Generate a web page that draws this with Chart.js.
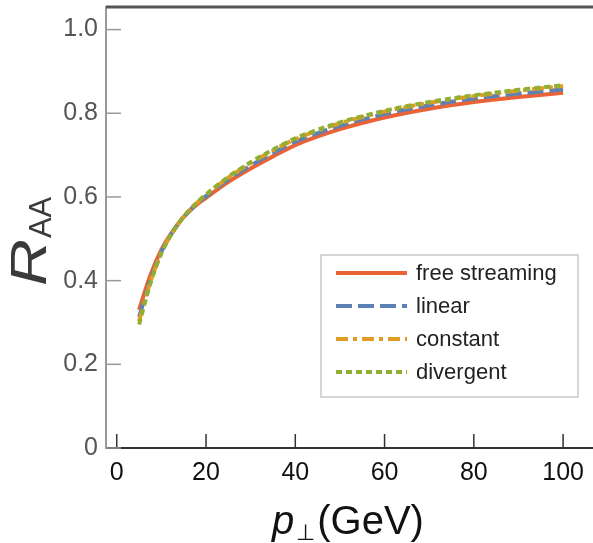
<!DOCTYPE html>
<html>
<head>
<meta charset="utf-8">
<script src="https://cdn.jsdelivr.net/npm/chart.js@4"></script>
<style>
body{margin:0;background:#fff}
#raa{display:block}
</style>
</head>
<body>
<canvas id="raa" width="593" height="543"></canvas>
<script>
// transverse momentum (GeV)
const pt = [5,7.5,10,12.5,15,17.5,20,25,30,35,40,50,60,70,80,90,100]

const freeStreaming = [0.330,0.412,0.474,0.518,0.552,0.578,0.598,0.636,0.668,0.697,0.724,0.762,0.790,0.811,0.827,0.839,0.849]
const linear        = [0.313,0.400,0.469,0.516,0.552,0.580,0.602,0.642,0.675,0.705,0.732,0.770,0.798,0.819,0.835,0.847,0.857]
const constant      = [0.303,0.396,0.467,0.515,0.553,0.581,0.605,0.646,0.681,0.711,0.738,0.776,0.804,0.825,0.841,0.854,0.865]
const divergent     = [0.295,0.392,0.465,0.515,0.553,0.582,0.606,0.648,0.683,0.713,0.740,0.778,0.806,0.827,0.843,0.856,0.867]

const xTicks = [0,20,40,60,80,100]
const yTicks = [0,0.2,0.4,0.6,0.8,1.0]

function pts(ys){
return pt.map((x,i)=>({x:x,y:ys[i]}))
}

function line(label,ys,color,dash,order){
return {
label:label,
data:pts(ys),
borderColor:color,
backgroundColor:color,
borderWidth:4,
borderDash:dash,
pointRadius:0,
cubicInterpolationMode:'monotone',
order:order
}
}

// frame top line, inward ticks, titles and legend box
const decor = {
id:'decor',
afterDraw(chart){
const c = chart.ctx
const a = chart.chartArea
const xs = chart.scales.x
const ys = chart.scales.y
c.save()

c.strokeStyle = '#555'
c.lineWidth = 3
c.beginPath()
c.moveTo(a.left,a.top)
c.lineTo(a.right,a.top)
c.stroke()

c.lineWidth = 1.5
c.strokeStyle = '#333'
xTicks.forEach(v=>{
const px = xs.getPixelForValue(v)
c.beginPath()
c.moveTo(px,a.bottom)
c.lineTo(px,a.bottom-14)
c.stroke()
})
c.strokeStyle = '#999'
yTicks.forEach(v=>{
const py = ys.getPixelForValue(v)
c.beginPath()
c.moveTo(a.left,py)
c.lineTo(a.left+15,py)
c.stroke()
})

// x title
c.fillStyle = '#111'
c.textBaseline = 'alphabetic'
c.textAlign = 'left'
let x = 272
c.font = 'italic 40px "Liberation Sans", Arial, sans-serif'
c.fillText('p',x,534)
x += c.measureText('p').width + 2
c.font = '22px "Liberation Sans", Arial, sans-serif'
c.fillText('\u22A5',x,540)
x += c.measureText('\u22A5').width + 2
c.font = '40px "Liberation Sans", Arial, sans-serif'
c.fillText('(GeV)',x,534)

// y title
c.save()
c.translate(46,286)
c.rotate(-Math.PI/2)
c.fillStyle = '#3a3a3a'
c.font = 'italic 50px "Liberation Sans", Arial, sans-serif'
const rw = c.measureText('R').width * 1.3
c.save()
c.scale(1.3,1)
c.fillText('R',0,0)
c.restore()
c.font = '31px "Liberation Sans", Arial, sans-serif'
c.fillText('AA',rw+1,5)
c.restore()

// legend
const bx = 321, by = 255, bw = 257, bh = 142
c.fillStyle = '#fff'
c.fillRect(bx,by,bw,bh)
c.strokeStyle = '#c8c8c8'
c.lineWidth = 1.5
c.strokeRect(bx,by,bw,bh)
c.font = '22px "Liberation Sans", Arial, sans-serif'
c.textBaseline = 'middle'
chart.data.datasets.forEach((d,i)=>{
const ry = by + 18 + i*33
c.strokeStyle = d.borderColor
c.lineWidth = d.borderWidth
c.setLineDash(d.borderDash)
c.beginPath()
c.moveTo(bx+15,ry)
c.lineTo(bx+86,ry)
c.stroke()
c.setLineDash([])
c.fillStyle = '#222'
c.fillText(d.label,bx+95,ry+1)
})

c.restore()
}
}

new Chart(document.getElementById('raa'),{
type:'line',
data:{
datasets:[
line('free streaming',freeStreaming,'#EB6235',[],4),
line('linear',linear,'#5E81B5',[16,6],3),
line('constant',constant,'#E19C24',[12,5,4,5],2),
line('divergent',divergent,'#8FB032',[6,4],1)
]
},
options:{
responsive:false,
animation:false,
layout:{padding:{top:7,right:0,bottom:0,left:0}},
plugins:{legend:{display:false},tooltip:{enabled:false}},
scales:{
x:{
type:'linear',
min:-2.41,
max:106.7,
afterBuildTicks:s=>{s.ticks = xTicks.map(v=>({value:v}))},
afterFit:s=>{s.height = 95; s.paddingLeft = 0; s.paddingRight = 0},
grid:{display:false,drawTicks:false},
border:{display:true,color:'#333',width:2},
ticks:{
color:'#111',
padding:10,
maxRotation:0,
font:{family:'"Liberation Sans", Arial, sans-serif',size:25}
}
},
y:{
type:'linear',
min:0,
max:1.054,
afterBuildTicks:s=>{s.ticks = yTicks.map(v=>({value:v}))},
afterFit:s=>{s.width = 106; s.paddingTop = 0; s.paddingBottom = 0},
grid:{display:false,drawTicks:false},
border:{display:true,color:'#999',width:2},
ticks:{
color:'#555',
padding:8,
callback:v=>v===0 ? '0' : v.toFixed(1),
font:{family:'"Liberation Sans", Arial, sans-serif',size:25}
}
}
}
},
plugins:[decor]
})
</script>
</body>
</html>
